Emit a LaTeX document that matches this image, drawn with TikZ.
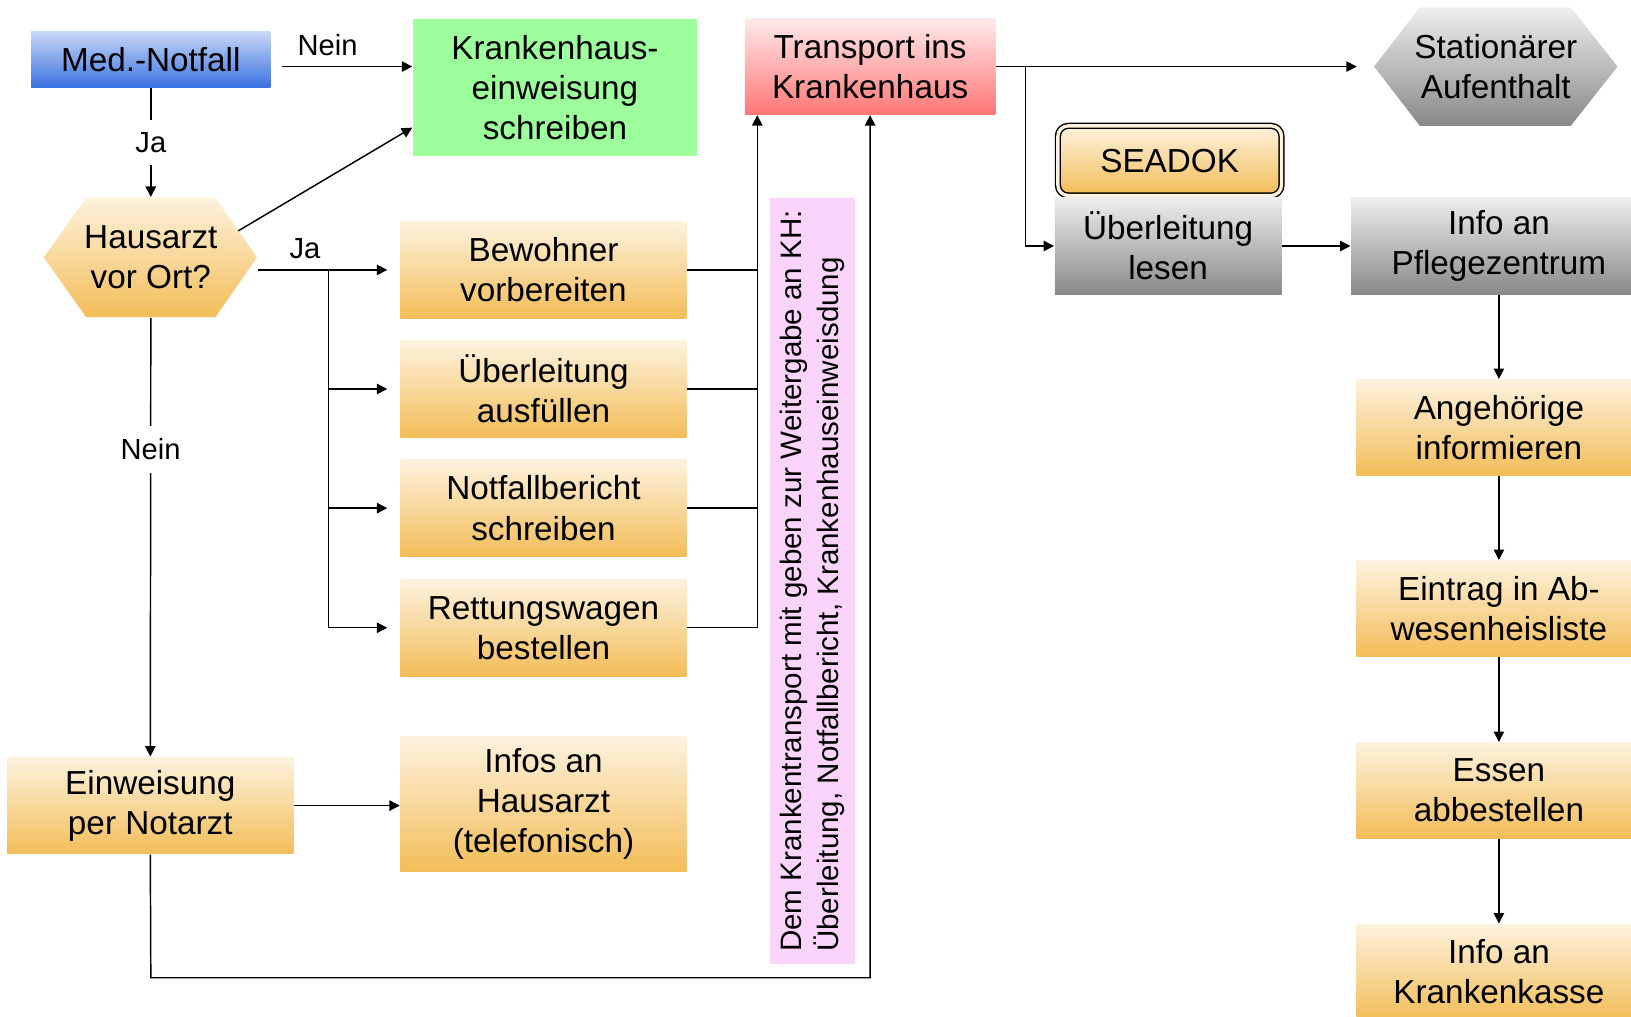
\documentclass[tikz,border=0pt]{standalone}
\usepackage{fontspec}
\setmainfont{Liberation Sans}
\usetikzlibrary{arrows.meta}
\definecolor{orgtop}{RGB}{253,242,222}
\definecolor{orgbot}{RGB}{243,189,88}
\definecolor{graytop}{RGB}{238,238,238}
\definecolor{graybot}{RGB}{136,136,136}
\definecolor{redtop}{RGB}{255,234,234}
\definecolor{redbot}{RGB}{255,118,118}
\definecolor{bluetop}{RGB}{200,216,247}
\definecolor{bluebot}{RGB}{58,114,224}
\definecolor{khgreen}{RGB}{156,255,156}
\definecolor{notepink}{RGB}{250,212,250}
\tikzset{
  box/.style={align=center, inner sep=0pt, font=\fontsize{16}{19.25}\selectfont,
    minimum width=137.5pt, minimum height=46.5pt},
  ambox/.style={top color=orgtop, bottom color=orgbot},
  graybox/.style={top color=graytop, bottom color=graybot},
  redbox/.style={top color=redtop, bottom color=redbot},
  bluebox/.style={top color=bluetop, bottom color=bluebot},
  greenbox/.style={fill=khgreen},
  seadok/.style={rounded corners=5pt, draw=black, double=orgtop, double distance=1.6pt},
  note/.style={fill=notepink, rotate=90, align=left, inner sep=0pt,
    font=\fontsize{14.2}{17.5}\selectfont, minimum width=368.5pt, minimum height=41pt},
  lbl/.style={font=\fontsize{14}{16}\selectfont, inner sep=1pt},
  onlbl/.style={lbl, fill=white, inner xsep=2pt, inner ysep=6pt},
  arr/.style={-{Triangle[length=5pt,width=5pt]}}
}
\begin{document}
\begin{tikzpicture}[x=0.5pt, y=-0.5pt, line width=0.7pt]
  \useasboundingbox (0,0) rectangle (1568,977);
  \node[box, bluebox, minimum width=115pt, minimum height=27pt] (med) at (145,57) {Med.-Notfall};
  \node[box, greenbox, minimum width=136.5pt, minimum height=66pt] (kh) at (533.5,84) {Krankenhaus-\\einweisung\\schreiben};
  \node[box, redbox, minimum width=120.5pt, minimum height=46pt] (tr) at (836.5,64) {Transport ins\\Krankenhaus};
  \shade[graybox] (1321,64) -- (1365,7) -- (1510,7) -- (1555,64) -- (1510,121) -- (1365,121) -- cycle;
  \node[box, minimum width=117pt, minimum height=57pt] (stat) at (1438,64) {Stationärer\\Aufenthalt};
  \node[box, ambox, seadok, minimum width=107.5pt, minimum height=33.5pt] (sea) at (1124.5,154.5) {SEADOK};
  \node[box, graybox, minimum width=109pt] (ul) at (1123,236.5) {Überleitung\\lesen};
  \node[box, graybox, minimum width=142pt] (ip) at (1441,236.5) {Info an\\Pflegezentrum};
  \node[box, ambox, minimum width=137pt, minimum height=46pt] (ang) at (1441,411) {Angehörige\\informieren};
  \node[box, ambox, minimum width=137pt, minimum height=46pt] (ein) at (1441,585) {Eintrag in Ab-\\wesenheisliste};
  \node[box, ambox, minimum width=137pt, minimum height=46pt] (ess) at (1441,760) {Essen\\abbestellen};
  \node[box, ambox, minimum width=137pt, minimum height=46pt] (ikk) at (1441,934.5) {Info an\\Krankenkasse};
  \shade[ambox] (42,247.5) -- (83,190) -- (207,190) -- (247,247.5) -- (207,305) -- (83,305) -- cycle;
  \node[box, minimum width=102.5pt, minimum height=57.5pt] (haus) at (145,247.5) {Hausarzt\\vor Ort?};
  \node[box, ambox] (bew) at (522.5,259.5) {Bewohner\\vorbereiten};
  \node[box, ambox] (uea) at (522.5,374) {Überleitung\\ausfüllen};
  \node[box, ambox] (nfb) at (522.5,488.5) {Notfallbericht\\schreiben};
  \node[box, ambox] (rtw) at (522.5,603.5) {Rettungswagen\\bestellen};
  \node[box, ambox] (einw) at (144.5,774.5) {Einweisung\\per Notarzt};
  \node[box, ambox, minimum height=65pt] (inf) at (522.5,773) {Infos an\\Hausarzt\\(telefonisch)};
  \node[note] (hinweis) at (781,558.5) {Dem Krankentransport mit geben zur Weitergabe an KH:\\Überleitung, Notfallbericht, Krankenhauseinweisdung};
  \coordinate (split) at (316,259.5);
  \coordinate (col) at (728,0);
  \coordinate (low) at (145,940);
  \coordinate (fork) at (986,64);
  \coordinate (hausne) at (229,222);
  \draw[arr, shorten <=5pt] (med.east |- tr.east) -- node[lbl, above=4pt, pos=0.4]{Nein} (kh.west |- tr.east);
  \draw[arr] (med.south) -- node[onlbl]{Ja} (haus.north);
  \draw[arr] (hausne) -- ([yshift=14pt]kh.south west);
  \draw[arr, shorten >=6pt] (haus.east |- bew.west) -- node[lbl, above=4pt, pos=0.33]{Ja} (bew.west);
  \draw[arr, shorten >=6pt] (split) |- (uea.west);
  \draw[arr, shorten >=6pt] (split) |- (nfb.west);
  \draw[arr, shorten >=6pt] (split) |- (rtw.west);
  \draw[arr] (haus.south) -- node[onlbl, pos=0.3]{Nein} (einw.north);
  \draw[arr] (einw.east) -- (einw.east -| inf.west);
  \draw (bew.east) -- (bew.east -| col);
  \draw (uea.east) -- (uea.east -| col);
  \draw (nfb.east) -- (nfb.east -| col);
  \draw[arr] (rtw.east) -| (col |- tr.south);
  \draw[arr] (einw.south) -- (low) -| (tr.south);
  \draw[arr, shorten >=8pt] (tr.east) -- (stat.west);
  \draw[arr] (fork) |- (ul.west);
  \draw[arr] (ul.east) -- (ip.west);
  \draw[arr] (ip.south) -- (ang.north);
  \draw[arr] (ang.south) -- (ein.north);
  \draw[arr] (ein.south) -- (ess.north);
  \draw[arr] (ess.south) -- (ikk.north);
\end{tikzpicture}
\end{document}
